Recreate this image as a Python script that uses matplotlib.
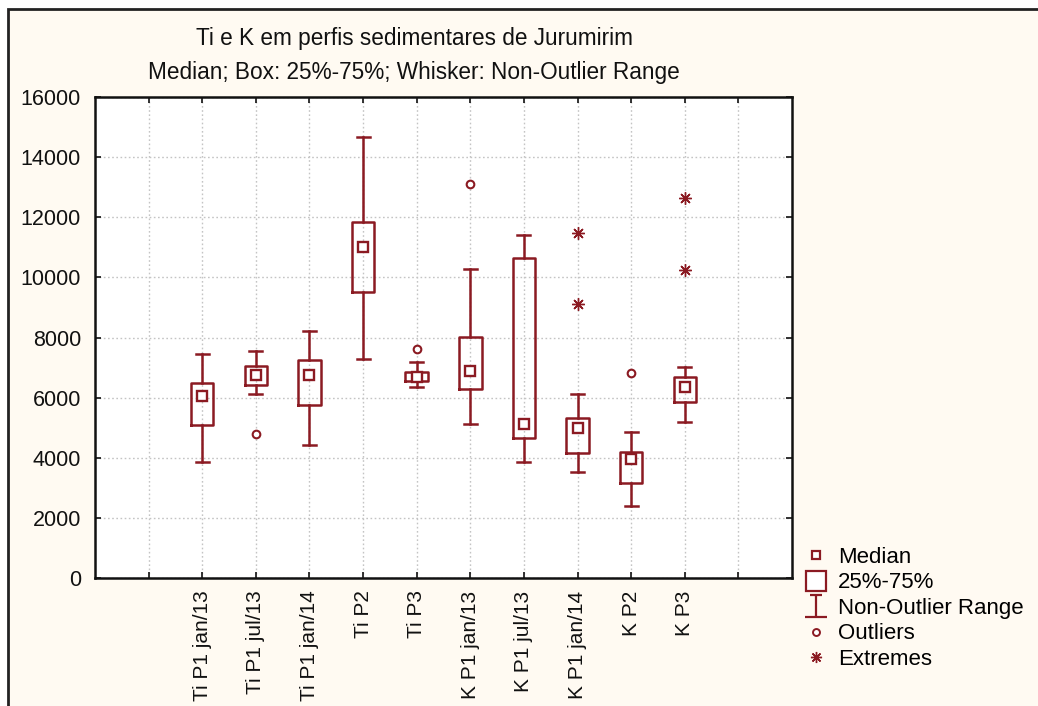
import matplotlib
matplotlib.use("Agg")
from matplotlib import pyplot as plt
from matplotlib.lines import Line2D
from matplotlib.path import Path
from matplotlib.patches import Rectangle

# data
labels = ["Ti P1 jan/13", "Ti P1 jul/13", "Ti P1 jan/14", "Ti P2", "Ti P3",
          "K P1 jan/13", "K P1 jul/13", "K P1 jan/14", "K P2", "K P3"]
medians = [6050, 6750, 6760, 11020, 6700, 6890, 5120, 5000, 3960, 6360]
q1 = [5090, 6410, 5750, 9500, 6560, 6300, 4660, 4150, 3150, 5850]
q3 = [6490, 7060, 7240, 11850, 6840, 8010, 10660, 5310, 4200, 6690]
whis_lo = [3870, 6130, 4410, 7290, 6350, 5130, 3870, 3540, 2390, 5200]
whis_hi = [7460, 7560, 8230, 14680, 7180, 10280, 11420, 6120, 4860, 7010]
# outliers / extremes as (category index, value)
outliers = [(1, 4780), (4, 7620), (5, 13110), (8, 6830)]
extremes = [(7, 11470), (7, 9100), (9, 12650), (9, 10250)]

red = "#8b1a22"
bg = "#fffaf2"
plt.rcParams['font.family'] = ['Liberation Sans', 'DejaVu Sans']

fig = plt.figure(figsize=(10.38, 7.06), dpi=100, facecolor="white")
# cream panel with dark border (top/left visible)
fig.patches.append(Rectangle((8/1038, -0.01), 1.02, 1 - 9/706 + 0.01, transform=fig.transFigure,
                             facecolor=bg, edgecolor="#222222", linewidth=2.0, zorder=-5))
ax = fig.add_axes([95/1038, 1 - 578/706, (792 - 95)/1038, (578 - 97)/706])
ax.set_zorder(2)
ax.set_facecolor("white")

pos = list(range(2, 2 + len(labels)))
stats = []
for i in range(len(labels)):
    stats.append(dict(med=medians[i], q1=q1[i], q3=q3[i],
                      whislo=whis_lo[i], whishi=whis_hi[i], fliers=[]))
ax.bxp(stats, positions=pos, widths=0.42, capwidths=0.24, showfliers=False,
       boxprops=dict(color=red, linewidth=1.8),
       whiskerprops=dict(color=red, linewidth=1.8),
       capprops=dict(color=red, linewidth=1.8),
       medianprops=dict(linestyle="none"), zorder=3)
ax.plot(pos, medians, "s", ms=6.5, mfc="white", mec=red, mew=1.7, linestyle="none", zorder=4)
ax.plot([pos[i] for i, v in outliers], [v for i, v in outliers], "o", ms=5.5,
        mfc="white", mec=red, mew=1.5, linestyle="none", zorder=4)
ax.plot([pos[i] for i, v in extremes], [v for i, v in extremes], marker=(8, 2, 0), ms=9,
        color=red, mew=1.0, linestyle="none", zorder=4)

ax.set_xlim(0, 13)
ax.set_ylim(0, 16000)
ax.set_xticks(range(1, 13))
ax.set_xticklabels([""] + labels + [""], rotation=90, fontsize=15)
ax.set_yticks(range(0, 16001, 2000))
ax.tick_params(axis="y", labelsize=15.5, pad=10)
ax.tick_params(axis="x", pad=9)
ax.tick_params(direction="in", top=True, right=True, length=4, width=1.2, colors="#111111")
ax.grid(True, color="#c4c4c4", linestyle=(0, (1.2, 1.8)), linewidth=1.0)
ax.set_axisbelow(True)
for s in ax.spines.values():
    s.set_linewidth(1.8)
    s.set_color("#111111")

fig.text(414/1038, 1 - 38/706, "Ti e K em perfis sedimentares de Jurumirim",
         ha="center", va="center", fontsize=16.3, color="#111111")
fig.text(414/1038, 1 - 72/706, "Median; Box: 25%-75%; Whisker: Non-Outlier Range",
         ha="center", va="center", fontsize=16.3, color="#111111")

ibeam = Path([(-0.5, 1), (0.5, 1), (0, 1), (0, -1), (-1, -1), (1, -1)],
             [Path.MOVETO, Path.LINETO, Path.MOVETO, Path.LINETO, Path.MOVETO, Path.LINETO])
handles = [
    Line2D([], [], marker="s", ms=6, mfc="white", mec=red, mew=1.6, linestyle="none"),
    Line2D([], [], marker="s", ms=15, mfc="white", mec=red, mew=1.6, linestyle="none"),
    Line2D([], [], marker=ibeam, ms=16, color=red, mew=1.6, linestyle="none"),
    Line2D([], [], marker="o", ms=5, mfc="white", mec=red, mew=1.4, linestyle="none"),
    Line2D([], [], marker=(8, 2, 0), ms=8, color=red, mew=1.0, linestyle="none"),
]
fig.legend(handles, ["Median", "25%-75%", "Non-Outlier Range", "Outliers", "Extremes"],
           loc="upper left", bbox_to_anchor=(805/1038, 1 - 547/706), frameon=False,
           fontsize=16, handlelength=1.0, handletextpad=0.5, labelspacing=0.2,
           borderaxespad=0, borderpad=0)

fig.savefig("out.png", dpi=100, facecolor=fig.get_facecolor())
